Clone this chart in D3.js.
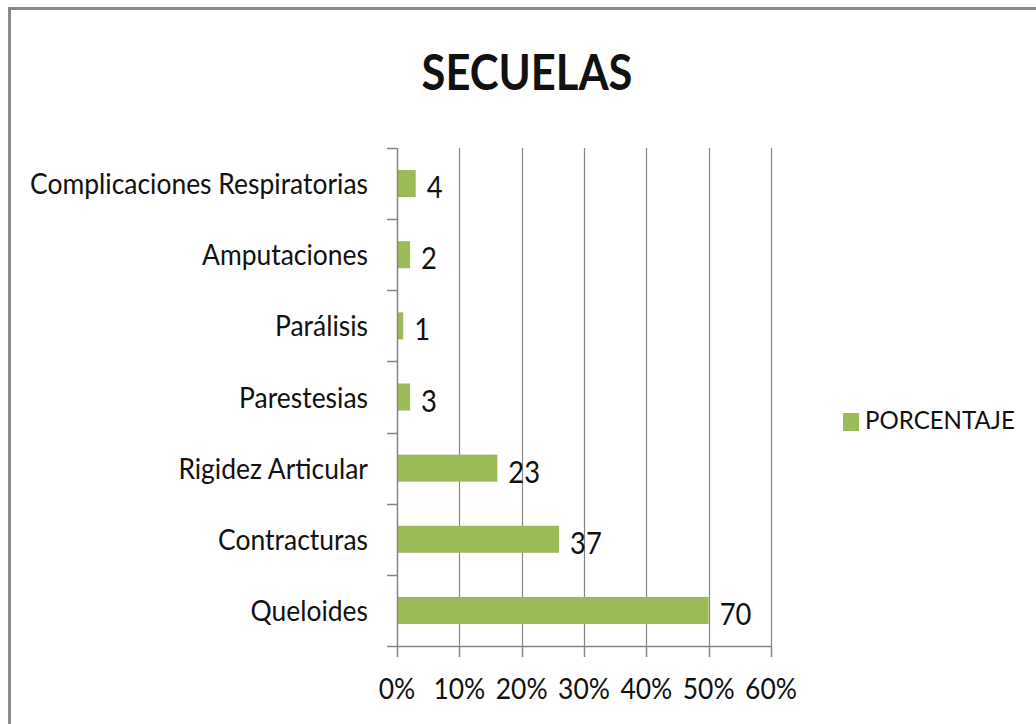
<!DOCTYPE html>
<html>
<head>
<meta charset="utf-8">
<script src="https://cdn.jsdelivr.net/npm/d3@7"></script>
<style>
  body { margin: 0; background: #fff; }
  svg text { font-family: Lato, "Open Sans", sans-serif; fill: #111; }
</style>
</head>
<body>
<div id="container"></div>
<script>
// data (bar length = percent, label = count)
var categories = ["Complicaciones Respiratorias", "Amputaciones", "Parálisis", "Parestesias",
                  "Rigidez Articular", "Contracturas", "Queloides"];
var percentValues = [0.03, 0.021, 0.01, 0.021, 0.161, 0.26, 0.50];
var countLabels = [4, 2, 1, 3, 23, 37, 70];
var xTicks = [0, 0.1, 0.2, 0.3, 0.4, 0.5, 0.6];
var seriesName = "PORCENTAJE";
var chartTitle = "SECUELAS";

var width = 1036, height = 724;
var svg = d3.select("div#container").append("svg")
    .attr("width", width)
    .attr("height", height);

// outer frame (only top/left visible in the picture)
svg.append("rect")
    .attr("x", 9.5).attr("y", 8.5)
    .attr("width", 1100).attr("height", 800)
    .attr("fill", "none")
    .attr("stroke", "#8a8a8a")
    .attr("stroke-width", 3);

var plot = {left: 397, right: 771, top: 148, bottom: 646};

var x = d3.scaleLinear().domain([0, 0.6]).range([plot.left, plot.right]);
var y = d3.scaleBand().domain(categories).range([plot.top, plot.bottom])
    .paddingInner(0.62).paddingOuter(0.31);

// squeezed text, like the stretched Calibri of the original
function squeezedText(parent, str, px, py, size, anchor, sx, weight) {
  var g = parent.append("g").attr("transform", "translate(" + px + "," + py + ") scale(" + sx + ",1)");
  g.append("text")
    .attr("text-anchor", anchor)
    .style("font-size", size + "px")
    .style("font-weight", weight || "normal")
    .text(str);
  return g;
}

function measure(str, size, weight) {
  var t = svg.append("text").style("font-size", size + "px").style("font-weight", weight || "normal").text(str);
  var w = t.node().getComputedTextLength();
  t.remove();
  return w;
}

var labelSize = 29;
var sx = 338 / measure("Complicaciones Respiratorias", labelSize);

// gridlines
svg.append("g").selectAll("line")
  .data(xTicks.slice(1))
  .enter().append("line")
    .attr("x1", function(d) { return Math.round(x(d)) + 0.5; })
    .attr("x2", function(d) { return Math.round(x(d)) + 0.5; })
    .attr("y1", plot.top).attr("y2", plot.bottom)
    .attr("stroke", "#868686").attr("stroke-width", 1.2);

// bars
svg.append("g").selectAll("rect")
  .data(categories)
  .enter().append("rect")
    .attr("x", x(0))
    .attr("y", function(d) { return y(d); })
    .attr("width", function(d, i) { return x(percentValues[i]) - x(0); })
    .attr("height", y.bandwidth())
    .attr("fill", "#9bbb59");

// left axis line and ticks at band edges
var step = y.step();
var edges = d3.range(categories.length + 1).map(function(i) { return plot.top + i * (plot.bottom - plot.top) / categories.length; });
svg.append("line")
    .attr("x1", plot.left + 0.5).attr("x2", plot.left + 0.5)
    .attr("y1", plot.top).attr("y2", plot.bottom)
    .attr("stroke", "#868686").attr("stroke-width", 1.5);
svg.append("g").selectAll("line")
  .data(edges)
  .enter().append("line")
    .attr("x1", plot.left - 10).attr("x2", plot.left)
    .attr("y1", function(d) { return Math.round(d) + 0.5; })
    .attr("y2", function(d) { return Math.round(d) + 0.5; })
    .attr("stroke", "#868686").attr("stroke-width", 1.5);

// bottom axis
svg.append("line")
    .attr("x1", plot.left).attr("x2", plot.right + 1)
    .attr("y1", plot.bottom + 0.5).attr("y2", plot.bottom + 0.5)
    .attr("stroke", "#868686").attr("stroke-width", 1.5);
svg.append("g").selectAll("line")
  .data(xTicks)
  .enter().append("line")
    .attr("x1", function(d) { return Math.round(x(d)) + 0.5; })
    .attr("x2", function(d) { return Math.round(x(d)) + 0.5; })
    .attr("y1", plot.bottom).attr("y2", plot.bottom + 11)
    .attr("stroke", "#868686").attr("stroke-width", 1.5);

var fmt = d3.format(".0%");
xTicks.forEach(function(d) {
  squeezedText(svg, fmt(d), x(d), 699, labelSize, "middle", sx);
});

// category labels
categories.forEach(function(c) {
  squeezedText(svg, c, 368, y(c) + y.bandwidth() / 2 + 10.5, labelSize, "end", sx);
});

// value labels
categories.forEach(function(c, i) {
  squeezedText(svg, String(countLabels[i]), x(percentValues[i]) + 11, y(c) + y.bandwidth() / 2 + 14.5, 30, "start", sx);
});

// title
var titleSize = 50;
var tsx = 211 / measure(chartTitle, titleSize, "bold");
squeezedText(svg, chartTitle, 527, 89.5, titleSize, "middle", tsx, "bold");

// legend
svg.append("rect")
    .attr("x", 843).attr("y", 413)
    .attr("width", 16).attr("height", 18)
    .attr("fill", "#9bbb59");
var lsx = 150 / measure(seriesName, 25);
squeezedText(svg, seriesName, 865, 428.5, 25, "start", lsx);
</script>
</body>
</html>
